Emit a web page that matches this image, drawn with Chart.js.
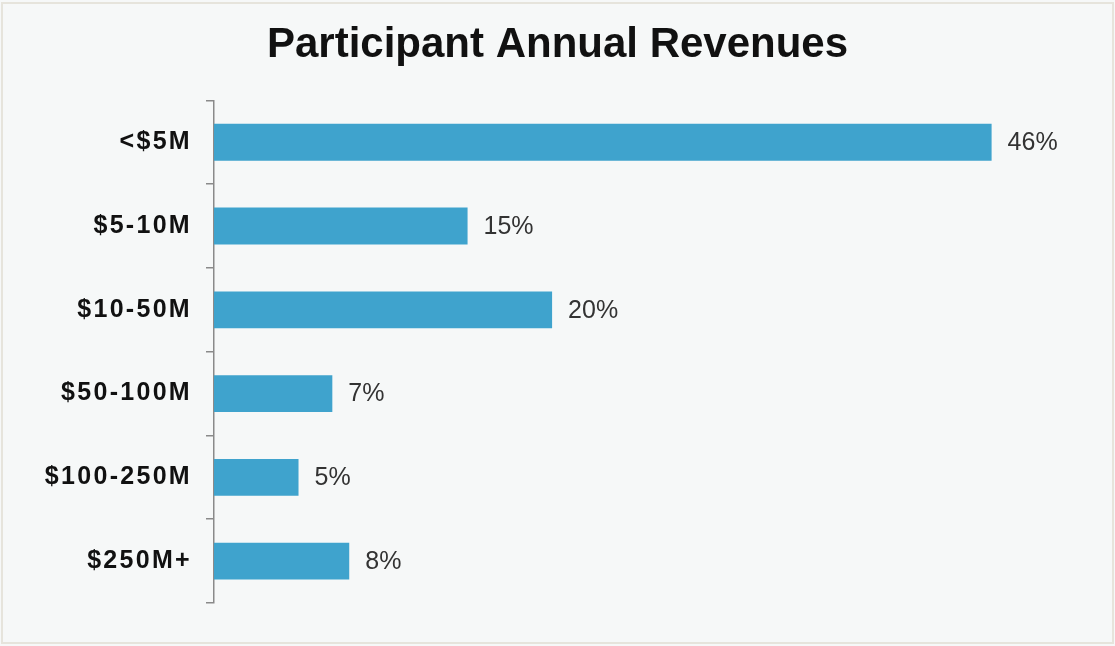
<!DOCTYPE html>
<html>
<head>
<meta charset="utf-8">
<title>Participant Annual Revenues</title>
<script src="https://cdn.jsdelivr.net/npm/chart.js@4/dist/chart.umd.min.js"></script>
<style>
  html, body { margin: 0; padding: 0; background: #f6f8f8; }
  #wrap { width: 1115px; height: 646px; position: relative; }
</style>
</head>
<body>
<div id="wrap"><canvas id="revChart"></canvas></div>
<script>
// data
const categories = ['<$5M', '$5-10M', '$10-50M', '$50-100M', '$100-250M', '$250M+'];
const shares = [46, 15, 20, 7, 5, 8];

// category axis whose labels are drawn a bit wider (letter spacing)
class SpacedCategory extends Chart.CategoryScale {
  drawLabels(area) {
    this.ctx.save();
    this.ctx.letterSpacing = '2.3px';
    super.drawLabels(area);
    this.ctx.restore();
  }
}
SpacedCategory.id = 'spacedCategory';
SpacedCategory.defaults = Chart.CategoryScale.defaults;
Chart.register(SpacedCategory);

// background + thin frame
const bgPlugin = {
  id: 'bg',
  beforeDraw(chart) {
    const ctx = chart.ctx;
    ctx.save();
    ctx.fillStyle = '#f6f8f8';
    ctx.fillRect(0, 0, chart.width, chart.height);
    ctx.strokeStyle = '#e6e4dc';
    ctx.lineWidth = 2;
    ctx.strokeRect(2, 3, chart.width - 4, chart.height - 6);
    ctx.restore();
  }
};

// percent labels at the end of each bar
const valueLabels = {
  id: 'valueLabels',
  afterDatasetsDraw(chart) {
    const ctx = chart.ctx;
    const meta = chart.getDatasetMeta(0);
    ctx.save();
    ctx.font = '25px "Liberation Sans", Arial, sans-serif';
    ctx.fillStyle = '#333333';
    ctx.textAlign = 'left';
    ctx.textBaseline = 'middle';
    meta.data.forEach((bar, i) => {
      ctx.fillText(shares[i] + '%', bar.x + 16, bar.y + 1);
    });
    ctx.restore();
  }
};

const ctx = document.getElementById('revChart').getContext('2d');
new Chart(ctx, {
  type: 'bar',
  data: {
    labels: categories,
    datasets: [{
      data: shares,
      backgroundColor: '#3fa3cd',
      borderWidth: 0,
      barPercentage: 0.44,
      categoryPercentage: 1
    }]
  },
  options: {
    indexAxis: 'y',
    responsive: true,
    maintainAspectRatio: false,
    animation: false,
    layout: { padding: { left: 0, right: 0, top: 0, bottom: 43 } },
    plugins: {
      legend: { display: false },
      tooltip: { enabled: false },
      title: {
        display: true,
        text: 'Participant Annual Revenues',
        color: '#111111',
        font: { family: '"Liberation Sans", Arial, sans-serif', size: 42, weight: 'bold' },
        padding: { top: 20, bottom: 30 }
      }
    },
    scales: {
      x: {
        display: false,
        min: 0,
        max: 53.3
      },
      y: {
        type: 'spacedCategory',
        offset: true,
        afterFit(scale) { scale.width = 214; },
        border: { display: true, color: '#8a8a8a', width: 1.5 },
        grid: {
          display: true,
          offset: true,
          drawOnChartArea: false,
          drawTicks: true,
          tickLength: 8,
          color: '#8a8a8a',
          lineWidth: 1.5
        },
        ticks: {
          color: '#111111',
          padding: 14,
          font: { family: '"Liberation Sans", Arial, sans-serif', size: 25, weight: 'bold' }
        }
      }
    }
  },
  plugins: [bgPlugin, valueLabels]
});
</script>
</body>
</html>
